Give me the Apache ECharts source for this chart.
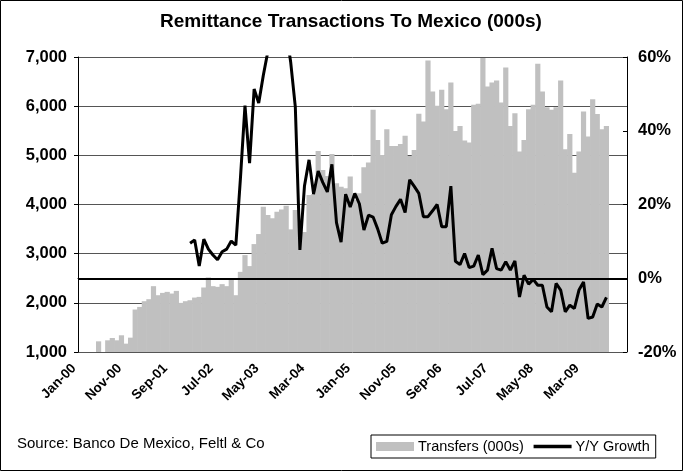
<!DOCTYPE html>
<html>
<head>
<meta charset="utf-8">
<script src="https://cdn.jsdelivr.net/npm/echarts@6/dist/echarts.min.js"></script>
<style>
  html, body { margin: 0; padding: 0; background: #fff; }
  #chart { width: 683px; height: 471px; }
</style>
</head>
<body>
<div id="chart"></div>
<script>
// Monthly remittance transactions (thousands), Jan-2000 onwards
const monthNames = ['Jan','Feb','Mar','Apr','May','Jun','Jul','Aug','Sep','Oct','Nov','Dec'];
const years = [2000, 2001, 2002, 2003, 2004, 2005, 2006, 2007, 2008, 2009];

const transfers = [
  950, 930, 980, 990, 1217, 990, 1238, 1285, 1238, 1340, 1170, 1292,
  1864, 1917, 2033, 2074, 2339, 2155, 2202, 2223, 2189, 2243, 1999, 2033,
  2053, 2107, 2121, 2312, 2516, 2339, 2325, 2380, 2339, 2475, 2155, 2630,
  2971, 2747, 3195, 3399, 3955, 3786, 3718, 3853, 3900, 3975, 3494, 3888,
  3600, 3440, 4193, 4210, 5090, 4703, 4580, 5029, 4431, 4363, 4330, 4567,
  4091, 4228, 4757, 4852, 5926, 5314, 5009, 5532, 5192, 5192, 5233, 5396,
  4988, 5110, 5844, 5687, 6930, 6298, 6007, 6332, 5938, 6482, 5497, 5599,
  5300, 5259, 6027, 6047, 6979, 6400, 6482, 6523, 6074, 6788, 5599, 5857,
  5076, 5314, 5938, 6027, 6862, 6298, 5979, 5925, 5979, 6523, 5123, 5436,
  4648, 5076, 5891, 5382, 6142, 5843, 5531, 5599, null, null, null, null
];

// Year-over-year growth of transactions, percent
const yoyGrowth = [
  null, null, null, null, null, null, null, null, null, null, null, null,
  null, null, null, null, null, null, null, null, null, null, null, null,
  9.5, 10.4, 3.3, 10.6, 7.9, 6.3, 5.0, 7.2, 7.9, 10.1, 9.0, 27.0,
  46.8, 31.2, 51.3, 47.5, 55.0, 61.5, 68.0, 74.0, 72.0, 67.0, 58.5, 46.5,
  7.7, 25.0, 32.1, 22.8, 29.1, 26.0, 23.4, 30.9, 15.1, 9.8, 22.8, 19.3,
  23.0, 20.2, 13.1, 17.1, 16.6, 13.4, 9.5, 10.0, 17.2, 19.5, 21.4, 17.8,
  26.7, 24.9, 23.0, 16.7, 16.7, 18.3, 20.0, 14.0, 14.0, 25.0, 4.6, 3.7,
  6.7, 2.9, 3.3, 6.3, 1.0, 2.2, 8.1, 2.6, 2.2, 4.5, 2.2, 4.7,
  -5.1, 0.8, -1.6, -0.3, -1.9, -1.9, -7.8, -9.1, -1.4, -3.2, -9.1, -7.3,
  -8.2, -3.2, -1.0, -10.9, -10.5, -7.0, -7.8, -5.2, null, null, null, null
];

const months = [];
years.forEach(function (y) {
  monthNames.forEach(function (m) {
    months.push(m + '-' + String(y).slice(2));
  });
});

const FONT = '"Liberation Sans", Arial, sans-serif';
const BAR_GREY = '#c0c0c0';

const chart = echarts.init(document.getElementById('chart'));
chart.setOption({
  animation: false,
  backgroundColor: '#fff',
  title: {
    text: 'Remittance Transactions To Mexico (000s)',
    left: 160,
    top: 12,
    padding: 0,
    textStyle: { fontFamily: FONT, fontSize: 19, fontWeight: 'bold', color: '#000' }
  },
  legend: {
    left: 371,
    top: 435,
    padding: [4, 6, 4, 5],
    itemGap: 8,
    itemWidth: 38,
    itemHeight: 9,
    borderColor: '#000',
    borderWidth: 1,
    textStyle: { fontFamily: FONT, fontSize: 14.5, color: '#000', padding: [0, 0, 0, -1] },
    data: [
      { name: 'Transfers (000s)', icon: 'rect' },
      {
        name: 'Y/Y Growth',
        itemStyle: { color: 'rgba(0,0,0,0)', borderColor: 'rgba(0,0,0,0)', borderWidth: 0 },
        lineStyle: { color: '#000', width: 3.5 }
      }
    ]
  },
  graphic: [
    {
      type: 'rect',
      shape: { x: 0.5, y: 0.5, width: 682, height: 470 },
      style: { fill: 'none', stroke: '#000', lineWidth: 1 },
      silent: true
    },
    {
      type: 'text',
      left: 17,
      top: 436,
      style: { text: 'Source: Banco De Mexico, Feltl & Co', font: '15px ' + FONT, fill: '#000' },
      silent: true
    }
  ],
  grid: { left: 78, right: 56, top: 57, bottom: 119 },
  xAxis: {
    type: 'category',
    data: months,
    boundaryGap: true,
    axisLine: { lineStyle: { color: '#000', width: 1 } },
    axisTick: { interval: 0, inside: true, length: 3, lineStyle: { color: '#000' } },
    axisLabel: {
      interval: 9,
      rotate: 45,
      margin: 8,
      padding: [0, 9, 18, 0],
      fontFamily: FONT,
      fontSize: 13.5,
      fontWeight: 'bold',
      color: '#000'
    },
    splitLine: { show: false }
  },
  yAxis: [
    {
      type: 'value',
      position: 'left',
      min: 1000,
      max: 7000,
      interval: 1000,
      axisLine: { show: true, lineStyle: { color: '#000', width: 1 } },
      axisTick: { show: true, length: 4, lineStyle: { color: '#000' } },
      axisLabel: {
        margin: 11,
        fontFamily: FONT,
        fontSize: 16.5,
        fontWeight: 'bold',
        color: '#000',
        formatter: function (v) { return v.toLocaleString('en-US'); }
      },
      splitLine: { show: true, lineStyle: { color: '#555', width: 1 } }
    },
    {
      type: 'value',
      position: 'right',
      min: -20,
      max: 60,
      interval: 20,
      axisLine: { show: true, lineStyle: { color: '#000', width: 1 } },
      axisTick: { show: true, inside: true, length: 4, lineStyle: { color: '#000' } },
      axisLabel: {
        margin: 11,
        fontFamily: FONT,
        fontSize: 16.5,
        fontWeight: 'bold',
        color: '#000',
        formatter: '{value}%'
      },
      splitLine: { show: false }
    }
  ],
  series: [
    {
      name: 'Transfers (000s)',
      type: 'bar',
      data: transfers,
      yAxisIndex: 0,
      // slightly wider than a category so neighbouring columns merge into one silhouette
      barWidth: 5.2,
      barGap: '-100%',
      clip: true,
      itemStyle: { color: BAR_GREY },
      emphasis: { disabled: true }
    },
    {
      name: 'Y/Y Growth',
      type: 'line',
      data: yoyGrowth,
      yAxisIndex: 1,
      symbol: 'none',
      clip: true,
      connectNulls: false,
      z: 3,
      lineStyle: { color: '#000', width: 3 },
      itemStyle: { color: '#000' },
      emphasis: { disabled: true },
      markLine: {
        silent: true,
        symbol: 'none',
        label: { show: false },
        lineStyle: { color: '#000', width: 2, type: 'solid' },
        data: [{ yAxis: 0 }]
      }
    }
  ]
});
</script>
</body>
</html>
